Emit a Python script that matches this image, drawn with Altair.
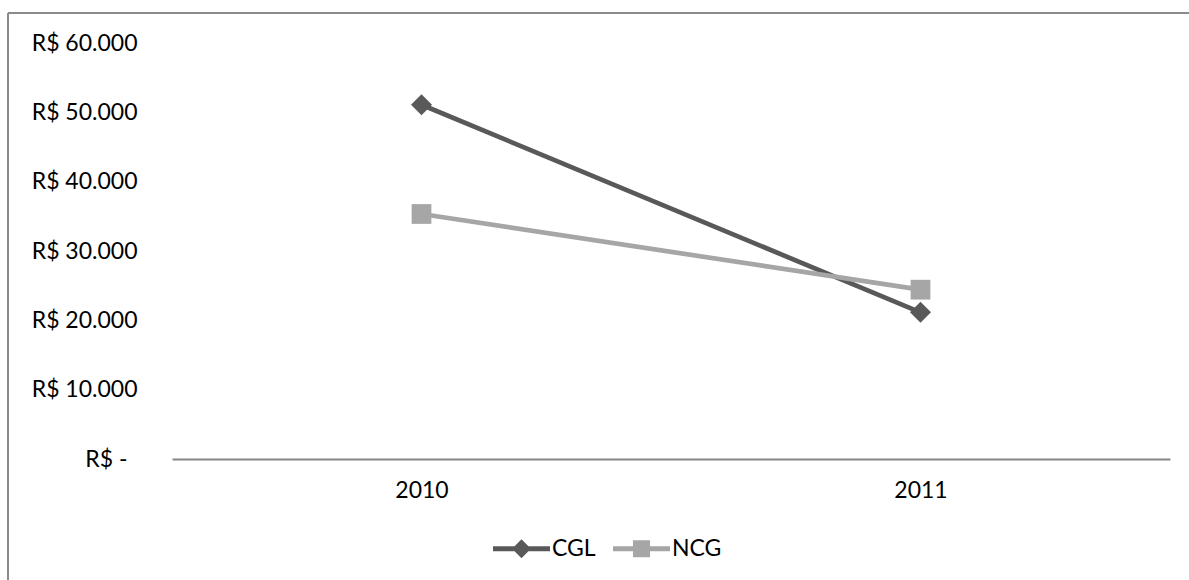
import altair as alt
import pandas as pd

# Series values (R$) per year
years = ["2010", "2011"]
series = ["CGL", "NCG"]
cgl_values = [51100, 21150]
ncg_values = [35340, 24420]
y_ticks = [0, 10000, 20000, 30000, 40000, 50000, 60000]

series_colors = ["#595959", "#a6a6a6"]

# Legend glyphs: a line segment with the series marker on it (unit coordinates)
bar = "M-1,-0.088L1,-0.088L1,0.088L-1,0.088Z"
legend_glyphs = [
    bar + "M0,-0.33L0.33,0L0,0.33L-0.33,0Z",
    bar + "M-0.3,-0.3L0.3,-0.3L0.3,0.3L-0.3,0.3Z",
]

rows = []
for name, vals in zip(series, [cgl_values, ncg_values]):
    for yr, v in zip(years, vals):
        rows.append({"ano": yr, "serie": name, "valor": v})
df = pd.DataFrame(rows)

FONT = "Lato"
FS = 23

x_enc = alt.X(
    "ano:N",
    sort=years,
    scale=alt.Scale(type="point", padding=0.5),
    axis=alt.Axis(
        title=None, labelAngle=0, ticks=False, grid=False,
        domainColor="#868686", domainWidth=2,
        labelPadding=20, labelFontSize=FS, labelFont=FONT, labelColor="black",
    ),
)
# Accounting-style labels: thousands with '.', zero shown as a dash (set in a little)
y_enc = alt.Y(
    "valor:Q",
    scale=alt.Scale(domain=[0, 60000], nice=False, zero=True),
    axis=alt.Axis(
        title=None, values=y_ticks, domain=False, ticks=False, grid=False,
        labelExpr="datum.value == 0 ? 'R$ -' : 'R$ ' + replace(format(datum.value, ','), ',', '.')",
        labelPadding={"condition": {"test": "datum.value == 0", "value": 45}, "value": 35},
        labelFontSize=FS, labelFont=FONT, labelColor="black",
    ),
)

base = alt.Chart(df)

lines = base.mark_line(strokeWidth=4.7).encode(
    x=x_enc, y=y_enc,
    stroke=alt.Stroke("serie:N", scale=alt.Scale(domain=series, range=series_colors), legend=None),
)

fill_enc = alt.Fill("serie:N", scale=alt.Scale(domain=series, range=series_colors), legend=None)

cgl_points = base.transform_filter(alt.datum.serie == "CGL").mark_point(
    filled=True, shape="diamond", size=440, opacity=1
).encode(x=x_enc, y=y_enc, fill=fill_enc)

ncg_points = base.transform_filter(alt.datum.serie == "NCG").mark_point(
    filled=True, shape="square", size=390, opacity=1
).encode(x=x_enc, y=y_enc, fill=fill_enc)

legend_def = alt.Legend(
    title=None, orient="none", legendX=321, legendY=477, direction="horizontal",
    symbolSize=3249, symbolOpacity=1, symbolStrokeWidth=0,
    labelFont=FONT, labelFontSize=FS, labelColor="black",
    labelOffset=2, columnPadding=17,
)

# Small glyphs under the markers; this layer carries the legend
legend_layer = base.mark_point(filled=True, size=20).encode(
    x=x_enc, y=y_enc,
    color=alt.Color("serie:N", scale=alt.Scale(domain=series, range=series_colors), legend=legend_def),
    shape=alt.Shape("serie:N", scale=alt.Scale(domain=series, range=legend_glyphs), legend=legend_def),
)

# Outer frame (top and left edges)
frame_src = alt.Chart(pd.DataFrame({"k": [0]}))
frame_top = frame_src.mark_rule(color="#8a8a8a", strokeWidth=2).encode(
    x=alt.value(-164), x2=alt.value(1017), y=alt.value(-30)
)
frame_left = frame_src.mark_rule(color="#8a8a8a", strokeWidth=2).encode(
    x=alt.value(-164), y=alt.value(-30), y2=alt.value(537)
)

chart = alt.layer(
    frame_top, frame_left, legend_layer, lines, cgl_points, ncg_points
).properties(
    width=998, height=416,
    autosize=alt.AutoSizeParams(type="none"),
    padding={"left": 172, "top": 43, "right": 19, "bottom": 121},
    background="white",
).configure_view(stroke=None)

chart.save("out.html", embed_options={"renderer": "svg", "actions": False})
